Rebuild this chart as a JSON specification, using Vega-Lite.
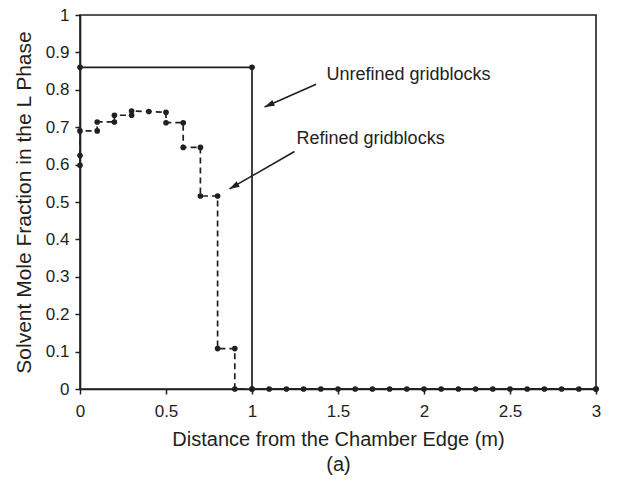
{
  "$schema": "https://vega.github.io/schema/vega-lite/v6.json",
  "width": 516,
  "height": 374,
  "autosize": {"type": "none"},
  "padding": {"left": 80, "top": 15, "right": 35, "bottom": 100},
  "background": "white",
  "config": {
    "font": "Liberation Sans",
    "view": {"stroke": "#231f20", "strokeWidth": 1.6},
    "axis": {
      "grid": false,
      "domainColor": "#231f20",
      "domainWidth": 1.6,
      "tickColor": "#231f20",
      "tickWidth": 1.5,
      "tickSize": 5,
      "labelFontSize": 17,
      "labelColor": "#231f20",
      "labelOverlap": false,
      "labelFlush": false,
      "titleFontSize": 20,
      "titleFontWeight": "normal",
      "titleColor": "#231f20"
    }
  },
  "datasets": {
    "refined": [
      {"i": 0, "x": 0, "y": 0.598},
      {"i": 1, "x": 0, "y": 0.624},
      {"i": 2, "x": 0, "y": 0.69},
      {"i": 3, "x": 0.1, "y": 0.69},
      {"i": 4, "x": 0.1, "y": 0.714},
      {"i": 5, "x": 0.2, "y": 0.714},
      {"i": 6, "x": 0.2, "y": 0.732},
      {"i": 7, "x": 0.3, "y": 0.732},
      {"i": 8, "x": 0.3, "y": 0.743},
      {"i": 9, "x": 0.4, "y": 0.742},
      {"i": 10, "x": 0.5, "y": 0.74},
      {"i": 11, "x": 0.5, "y": 0.712},
      {"i": 12, "x": 0.6, "y": 0.712},
      {"i": 13, "x": 0.6, "y": 0.646},
      {"i": 14, "x": 0.7, "y": 0.646},
      {"i": 15, "x": 0.7, "y": 0.516},
      {"i": 16, "x": 0.8, "y": 0.516},
      {"i": 17, "x": 0.8, "y": 0.108},
      {"i": 18, "x": 0.9, "y": 0.108},
      {"i": 19, "x": 0.9, "y": 0},
      {"i": 20, "x": 1.0, "y": 0},
      {"i": 21, "x": 1.1, "y": 0},
      {"i": 22, "x": 1.2, "y": 0},
      {"i": 23, "x": 1.3, "y": 0},
      {"i": 24, "x": 1.4, "y": 0},
      {"i": 25, "x": 1.5, "y": 0},
      {"i": 26, "x": 1.6, "y": 0},
      {"i": 27, "x": 1.7, "y": 0},
      {"i": 28, "x": 1.8, "y": 0},
      {"i": 29, "x": 1.9, "y": 0},
      {"i": 30, "x": 2.0, "y": 0},
      {"i": 31, "x": 2.1, "y": 0},
      {"i": 32, "x": 2.2, "y": 0},
      {"i": 33, "x": 2.3, "y": 0},
      {"i": 34, "x": 2.4, "y": 0},
      {"i": 35, "x": 2.5, "y": 0},
      {"i": 36, "x": 2.6, "y": 0},
      {"i": 37, "x": 2.7, "y": 0},
      {"i": 38, "x": 2.8, "y": 0},
      {"i": 39, "x": 2.9, "y": 0},
      {"i": 40, "x": 3.0, "y": 0}
    ],
    "unrefined": [
      {"i": 0, "x": 0, "y": 0.86},
      {"i": 1, "x": 1, "y": 0.86},
      {"i": 2, "x": 1, "y": 0},
      {"i": 3, "x": 3, "y": 0}
    ],
    "labels": [
      {"name": "Unrefined", "x": 1.433, "y": 0.84, "text": "Unrefined gridblocks"},
      {"name": "Refined", "x": 1.259, "y": 0.668, "text": "Refined gridblocks"}
    ],
    "arrows": [
      {"name": "Unrefined", "x": 1.373, "y": 0.815, "x2": 1.073, "y2": 0.754},
      {"name": "Refined", "x": 1.247, "y": 0.635, "x2": 0.869, "y2": 0.535}
    ]
  },
  "layer": [
    {
      "data": {"name": "refined"},
      "mark": {"type": "line", "color": "#231f20", "strokeWidth": 1.7, "strokeDash": [6, 4]},
      "encoding": {
        "x": {"field": "x", "type": "quantitative", "scale": {"domain": [0, 3], "nice": false},
              "axis": {"values": [0, 0.5, 1, 1.5, 2, 2.5, 3], "format": "~g", "labelPadding": 9, "titlePadding": 10, "titleLineHeight": 25},
              "title": ["Distance from the Chamber Edge (m)", "(a)"]},
        "y": {"field": "y", "type": "quantitative", "scale": {"domain": [0, 1], "nice": false},
              "axis": {"tickCount": 10, "format": "~g", "labelPadding": 6, "titlePadding": 11, "titleFontSize": 21, "labelOverlap": false},
              "title": "Solvent Mole Fraction in the L Phase"},
        "order": {"field": "i", "type": "quantitative"}
      }
    },
    {
      "data": {"name": "unrefined"},
      "mark": {"type": "line", "color": "#231f20", "strokeWidth": 1.7},
      "encoding": {
        "x": {"field": "x", "type": "quantitative"},
        "y": {"field": "y", "type": "quantitative"},
        "order": {"field": "i", "type": "quantitative"}
      }
    },
    {
      "data": {"name": "refined"},
      "mark": {"type": "point", "shape": "circle", "filled": true, "color": "#231f20", "size": 32, "opacity": 1},
      "encoding": {
        "x": {"field": "x", "type": "quantitative"},
        "y": {"field": "y", "type": "quantitative"}
      }
    },
    {
      "data": {"name": "unrefined"},
      "mark": {"type": "point", "shape": "circle", "filled": true, "color": "#231f20", "size": 32, "opacity": 1},
      "encoding": {
        "x": {"field": "x", "type": "quantitative"},
        "y": {"field": "y", "type": "quantitative"}
      }
    },
    {
      "data": {"name": "arrows"},
      "mark": {"type": "rule", "color": "#231f20", "strokeWidth": 1.6},
      "encoding": {
        "x": {"field": "x", "type": "quantitative"},
        "y": {"field": "y", "type": "quantitative"},
        "x2": {"field": "x2"},
        "y2": {"field": "y2"}
      }
    },
    {
      "data": {"name": "arrows"},
      "transform": [{"filter": "datum.name === 'Unrefined'"}],
      "mark": {"type": "point", "shape": "M0,0L-0.32,1L0.32,1Z", "filled": true, "color": "#231f20", "size": 400, "opacity": 1, "angle": 246},
      "encoding": {
        "x": {"field": "x2", "type": "quantitative"},
        "y": {"field": "y2", "type": "quantitative"}
      }
    },
    {
      "data": {"name": "arrows"},
      "transform": [{"filter": "datum.name === 'Refined'"}],
      "mark": {"type": "point", "shape": "M0,0L-0.32,1L0.32,1Z", "filled": true, "color": "#231f20", "size": 400, "opacity": 1, "angle": 240},
      "encoding": {
        "x": {"field": "x2", "type": "quantitative"},
        "y": {"field": "y2", "type": "quantitative"}
      }
    },
    {
      "data": {"name": "labels"},
      "mark": {"type": "text", "align": "left", "baseline": "middle", "fontSize": 18, "color": "#231f20"},
      "encoding": {
        "x": {"field": "x", "type": "quantitative"},
        "y": {"field": "y", "type": "quantitative"},
        "text": {"field": "text"}
      }
    }
  ]
}
